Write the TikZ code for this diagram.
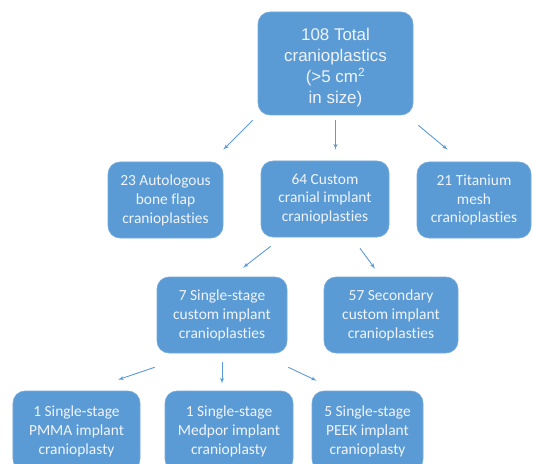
\documentclass[tikz,border=0pt]{standalone}
\usepackage{fontspec}
\setmainfont{Carlito}[Ligatures=NoCommon]
\newfontfamily\arialfont{Liberation Sans}
\usetikzlibrary{positioning,arrows}
\definecolor{boxblue}{RGB}{91,155,213}
\definecolor{boxtext}{RGB}{240,244,250}
\tikzset{
    block/.style = {
        fill=boxblue,
        draw=boxblue!85!white,
        shape=rectangle,
        rounded corners=12bp,
        minimum height=76bp,
        align=center,
        text=boxtext,
        inner sep=0pt,
        line width=0.6pt,
        font=\fontsize{15.5}{19}\selectfont
    },
    topblock/.style = {
        block,
        minimum width=155bp,
        minimum height=103bp,
        font=\arialfont\fontsize{17}{21}\selectfont
    },
    link/.style = {
        draw=boxblue,
        line width=0.9pt,
        ->
    },
    >=latex',
}

\begin{document}
\begin{tikzpicture}[x=1bp,y=-1bp]
            \useasboundingbox (0,0) rectangle (533,464);

            \node[topblock] (total) at (335.5,63.5) {\rule{0pt}{21bp}108 Total\\cranioplastics\\(>5 cm\textsuperscript{2}\\in size)};
            \node[block, minimum width=115bp] (autol) at (165.5,200) {23 Autologous\\bone flap\\cranioplasties};
            \node[block, minimum width=128bp] (custom) at (325,199) {64 Custom\\cranial implant\\cranioplasties};
            \node[block, minimum width=114bp] (titan) at (474,200) {21 Titanium\\mesh\\cranioplasties};
            \node[block, minimum width=130bp] (single) at (222,315) {7 Single-stage\\custom implant\\cranioplasties};
            \node[block, minimum width=134bp] (second) at (391,315) {57 Secondary\\custom implant\\cranioplasties};
            \node[block, minimum width=127bp, minimum height=80bp] (pmma) at (76.5,431) {1 Single-stage\\PMMA implant\\cranioplasty};
            \node[block, minimum width=128bp, minimum height=80bp] (medpor) at (229,431) {1 Single-stage\\Medpor implant\\cranioplasty};
            \node[block, minimum width=111bp, minimum height=80bp] (peek) at (367.5,431) {5 Single-stage\\PEEK implant\\cranioplasty};

            % first level
            \path[link] ([shift={(-5,5)}]total.south west) -- ([shift={(0,-12)}]autol.north east);
            \path[link, shorten <=5bp, shorten >=11bp] (total.south) -- (total.south |- custom.north);
            \path[link] ([shift={(5,10)}]total.south east) -- ([shift={(31,-12)}]titan.north west);

            % custom implants
            \path[link] ([shift={(10,9)}]custom.south west) -- ([shift={(21,-9)}]single.north);
            \path[link] ([shift={(35,11)}]custom.south) -- ([shift={(-16,-8)}]second.north);

            % single-stage implants
            \path[link] ([shift={(-2,14)}]single.south west) -- ([shift={(41.5,-11)}]pmma.north);
            \path[link, shorten <=9bp, shorten >=7bp] (single.south) -- (single.south |- medpor.north);
            \path[link] ([shift={(1,14)}]single.south east) -- ([shift={(5,-10)}]peek.north west);
\end{tikzpicture}
\end{document}
